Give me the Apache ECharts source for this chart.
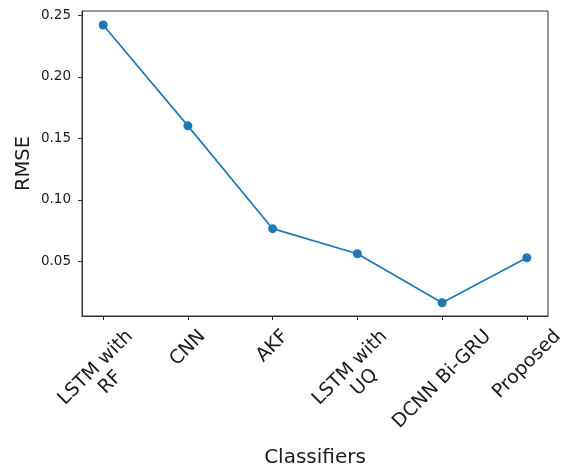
<!DOCTYPE html>
<html>
<head>
<meta charset="utf-8">
<script src="https://cdn.jsdelivr.net/npm/echarts@6/dist/echarts.min.js"></script>
<style>
    html, body { margin: 0; padding: 0; background: #fff; }
    #chart { width: 563px; height: 468px; }
</style>
</head>
<body>
<div id="chart"></div>
<script>
    // 数据
    const classifiers = ['LSTM with\nRF', 'CNN', 'AKF', 'LSTM with\nUQ', 'DCNN Bi-GRU', 'Proposed'];
    const rmse = [0.2421, 0.1601, 0.0765, 0.0561, 0.0163, 0.0529];
    const yTicks = [0.05, 0.10, 0.15, 0.20, 0.25];

    const FONT = '"DejaVu Sans"';
    const labelSize = 19;
    const textColor = '#1a1a1a';

    let myChart = echarts.init(document.getElementById('chart'));

    let option = {
        animation: false,
        grid: {
            left: 82,
            top: 11,
            right: 15,
            bottom: 152,
            outerBoundsMode: 'none',
            show: true,
            borderColor: '#333',
            borderWidth: 1
        },
        xAxis: {
            type: 'value',
            min: -0.25,
            max: 5.25,
            name: 'Classifiers',
            nameLocation: 'middle',
            nameGap: 132,
            nameTextStyle: {fontFamily: FONT, fontSize: 20, color: textColor},
            axisLine: {show: true, onZero: false, lineStyle: {color: '#333'}},
            axisTick: {show: true, length: 4, customValues: [0, 1, 2, 3, 4, 5], lineStyle: {color: '#333'}},
            axisLabel: {show: false},
            splitLine: {show: false}
        },
        yAxis: {
            type: 'value',
            min: 0.0055,
            max: 0.2535,
            name: 'RMSE',
            nameLocation: 'middle',
            nameGap: 48,
            nameMoveOverlap: false,
            nameTextStyle: {fontFamily: FONT, fontSize: 19.5, color: textColor},
            axisLine: {show: true, onZero: false, lineStyle: {color: '#333'}},
            axisTick: {show: true, length: 4, customValues: yTicks, lineStyle: {color: '#333'}},
            axisLabel: {
                customValues: yTicks,
                fontFamily: FONT,
                fontSize: 13.5,
                color: textColor,
                margin: 11,
                formatter: (v) => v.toFixed(2)
            },
            splitLine: {show: false}
        },
        series: [{
            type: 'line',
            data: rmse.map((v, i) => [i, v]),
            symbol: 'circle',
            symbolSize: 9,
            itemStyle: {color: '#1f77b4'},
            lineStyle: {color: '#1f77b4', width: 1.7}
        }]
    };
    myChart.setOption(option);

    // x轴标签：仿 matplotlib rotation=45，包围盒居中于刻度
    let ctx = document.createElement('canvas').getContext('2d');
    ctx.font = labelSize + 'px ' + FONT;
    let axisY = myChart.convertToPixel({yAxisIndex: 0}, 0.0055);
    let graphics = classifiers.map((name, i) => {
        let lines = name.split('\n');
        let w = Math.max(...lines.map(l => ctx.measureText(l).width));
        let h = lines.length * labelSize * 1.1;
        let tx = myChart.convertToPixel({xAxisIndex: 0}, i);
        let top = axisY + 10;
        return {
            type: 'text',
            x: tx,
            y: top + 0.3536 * (w + h),
            rotation: Math.PI / 4,
            style: {
                text: name,
                font: labelSize + 'px ' + FONT,
                fill: textColor,
                align: 'center',
                verticalAlign: 'middle',
                lineHeight: labelSize * 1.1
            }
        };
    });
    myChart.setOption({graphic: graphics});
</script>
</body>
</html>
